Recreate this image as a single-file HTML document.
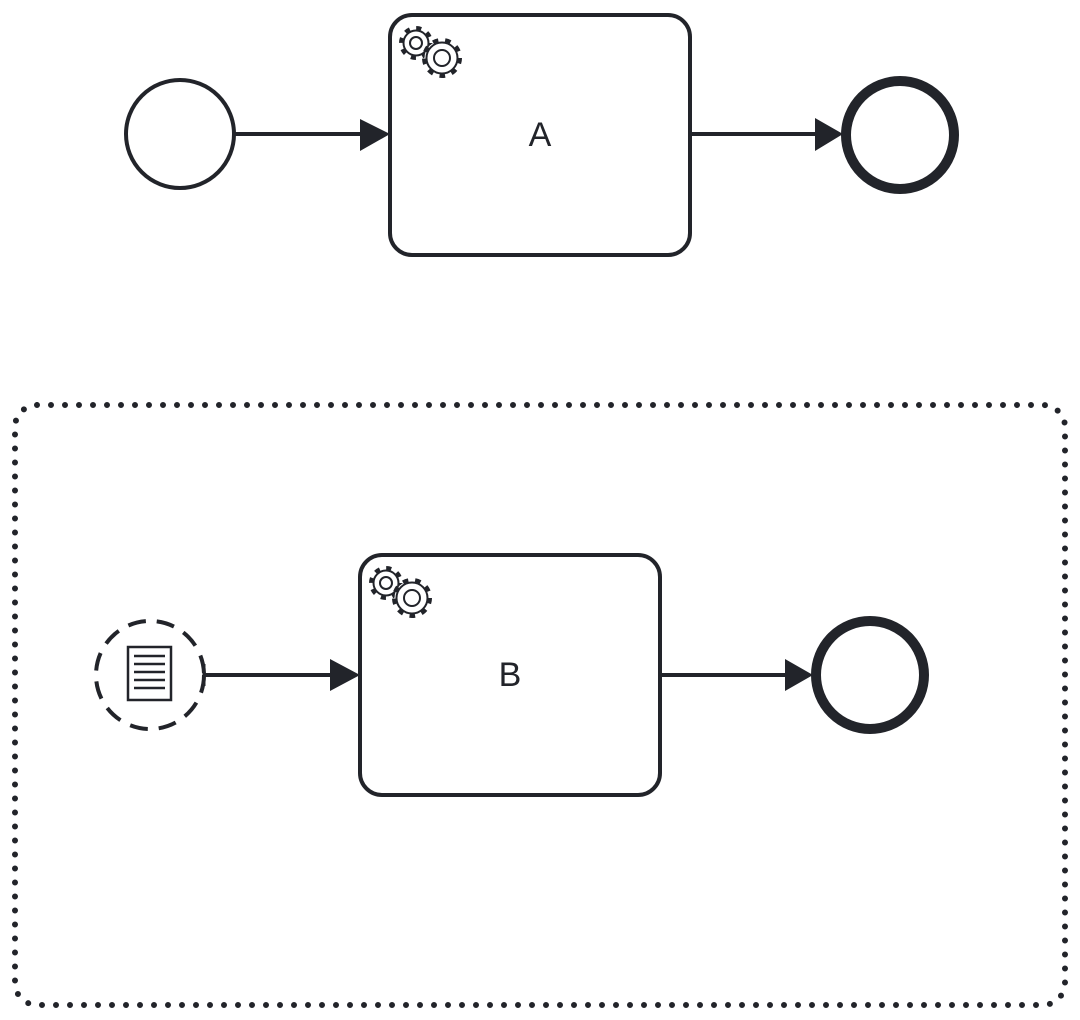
<!DOCTYPE html>
<html><head><style>html,body{margin:0;padding:0;background:#fff;}svg{display:block}</style></head>
<body>
<svg width="1080" height="1020" viewBox="0 0 1080 1020" xmlns="http://www.w3.org/2000/svg">
<defs>
<g id="gears" fill="none" stroke="#22242a" stroke-width="2">
  <circle cx="0" cy="0" r="14.5" stroke-width="5" stroke-dasharray="5 6.4"/>
  <circle cx="0" cy="0" r="12.5" fill="#fff" stroke-width="2"/>
  <circle cx="0" cy="0" r="6"/>
  <g transform="translate(26,15)">
    <circle cx="0" cy="0" r="17.5" stroke-width="5" stroke-dasharray="5.5 6.7" fill="#fff"/>
    <circle cx="0" cy="0" r="15.5" fill="#fff" stroke-width="2"/>
    <circle cx="0" cy="0" r="8"/>
  </g>
</g>
</defs>
<g fill="none" stroke="#22242a">
  <circle cx="180" cy="134" r="54" stroke-width="4"/>
  <line x1="235" y1="134" x2="362" y2="134" stroke-width="4"/>
  <polygon points="360,119 390,134 360,151" fill="#22242a" stroke="none"/>
  <rect x="390" y="15" width="300" height="240" rx="22" stroke-width="4" fill="#fff"/>
  <line x1="690" y1="134" x2="818" y2="134" stroke-width="4"/>
  <polygon points="815,118 843,134 815,151" fill="#22242a" stroke="none"/>
  <circle cx="900" cy="135" r="54" stroke-width="10"/>
  <rect x="15" y="405" width="1050" height="600" rx="22" stroke-width="6" stroke-linecap="round" stroke-dasharray="0 14"/>
  <circle cx="150" cy="675" r="54" stroke-width="4" stroke-dasharray="18 11"/>
  <rect x="128" y="647" width="43" height="53" stroke-width="2.5"/>
  <g stroke-width="2.5"><line x1="134" y1="656" x2="165" y2="656"/><line x1="134" y1="664" x2="165" y2="664"/><line x1="134" y1="672" x2="165" y2="672"/><line x1="134" y1="680" x2="165" y2="680"/><line x1="134" y1="688" x2="165" y2="688"/></g>
  <line x1="204" y1="675" x2="332" y2="675" stroke-width="4"/>
  <line x1="204" y1="664" x2="204" y2="686" stroke-width="3"/>
  <polygon points="330,659 360,675 330,691" fill="#22242a" stroke="none"/>
  <rect x="360" y="555" width="300" height="240" rx="22" stroke-width="4" fill="#fff"/>
  <line x1="660" y1="675" x2="788" y2="675" stroke-width="4"/>
  <polygon points="785,659 813,675 785,691" fill="#22242a" stroke="none"/>
  <circle cx="870" cy="675" r="54" stroke-width="10"/>
</g>
<use href="#gears" x="416" y="43"/>
<use href="#gears" x="386" y="583"/>
<text x="540" y="146" font-family="Liberation Sans, sans-serif" font-size="34" text-anchor="middle" fill="#22242a">A</text>
<text x="510" y="686" font-family="Liberation Sans, sans-serif" font-size="34" text-anchor="middle" fill="#22242a">B</text>
</svg>
</body></html>
